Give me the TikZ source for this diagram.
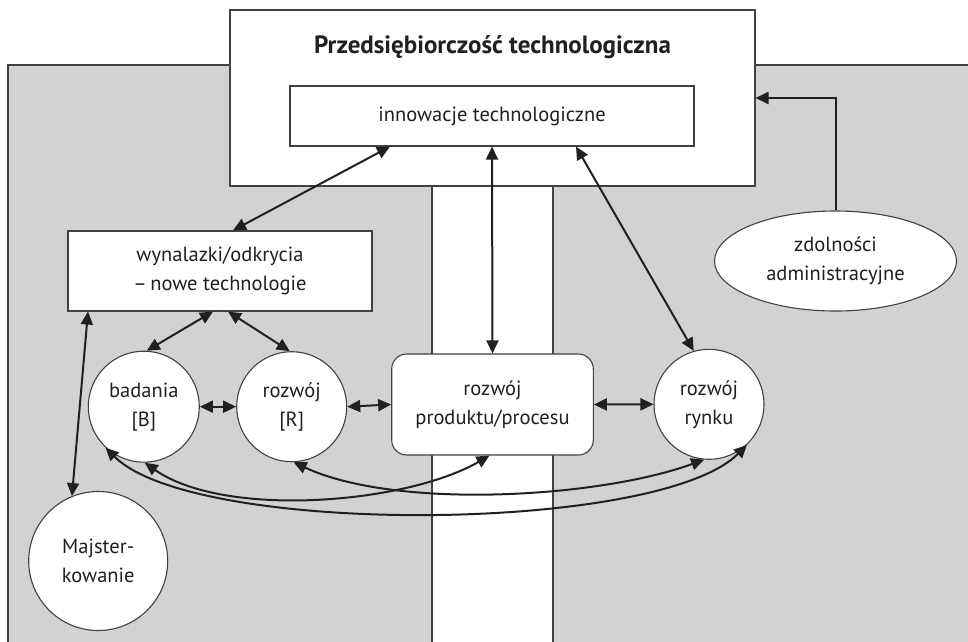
\documentclass[tikz,border=0pt]{standalone}
\usepackage{fontspec}
\setmainfont{PT Sans}
\usetikzlibrary{arrows.meta,shapes.geometric}
\definecolor{bggray}{RGB}{209,210,212}
\definecolor{edge}{RGB}{65,64,66}
\definecolor{ink}{RGB}{35,31,32}
\begin{document}
\begin{tikzpicture}[x=1pt,y=-1pt,
  every node/.style={font=\fontsize{20.5}{29}\selectfont, text=ink, align=center, inner sep=0pt},
  boxed/.style={draw=edge, line width=1.1pt, fill=white},
  circ/.style={boxed, circle},
  link/.style={draw=ink, line width=2pt, {Triangle[length=13pt,width=12pt]}-{Triangle[length=13pt,width=12pt]}},
  onelink/.style={draw=ink, line width=2pt, -{Triangle[length=13pt,width=12pt]}}]
\useasboundingbox (0,0) rectangle (968,641);
% grey field behind the process
\fill[bggray] (8,65) rectangle (980,660);
\draw[edge, line width=1.1pt] (8,660) -- (8,65) -- (980,65);
% white corridor under the enterprise box
\fill[white] (432,186) rectangle (553,660);
\draw[edge, line width=1.1pt] (432,186) -- (432,660) (553,186) -- (553,660);
% enterprise box
\node[boxed, minimum width=525pt, minimum height=176pt] (top) at (492.5,98) {};
\node[font=\fontsize{25}{30}\selectfont\bfseries] (title) at (492.5,47) {Przedsiębiorczość technologiczna};
\node[boxed, minimum width=404pt, minimum height=60pt] (inno) at (492,116) {innowacje technologiczne};
% process elements
\node[boxed, minimum width=304pt, minimum height=80pt] (wyn) at (220,271) {wynalazki/odkrycia\\–\,nowe technologie};
\node[circ, minimum size=111pt] (bad) at (143.8,406.7) {badania\\{[B]}};
\node[circ, minimum size=110pt] (rozR) at (291.7,406.7) {rozwój\\{[R]}};
\node[boxed, rounded corners=15pt, minimum width=201.6pt, minimum height=101pt] (prod) at (492.5,404.5) {rozwój\\produktu/procesu};
\node[circ, minimum size=110pt] (rynek) at (709,404.3) {rozwój\\rynku};
\node[boxed, ellipse, minimum width=242pt, minimum height=100pt] (adm) at (835.5,261) {zdolności\\administracyjne};
\node[circ, minimum size=139pt] (maj) at (98.2,561) {Majster-\\kowanie};
% connectors
\draw[link] ([xshift=-102pt]inno.south) -- ([xshift=13pt]wyn.north);
\draw[link] (inno.south) -- (prod.north);
\draw[link] ([xshift=84pt]inno.south) -- (rynek.106);
\draw[link] ([xshift=-7pt]wyn.south) -- (bad.87);
\draw[link] ([xshift=8pt]wyn.south) -- (rozR.92);
\draw[link] ([xshift=-132pt]wyn.south) -- (maj.112);
\draw[link] (bad.east) -- (rozR.west);
\draw[link] (rozR.east) -- (prod.west);
\draw[link] (prod.east) -- (rynek.west);
\draw[link] (bad.-89) to[out=-35, in=-150, looseness=0.72] ([xshift=-3pt]prod.south);
\draw[link] (rozR.-88) to[out=-25, in=-160, looseness=0.7] (rynek.-95);
\draw[link] (bad.-133) to[out=-45, in=-135, looseness=0.5] (rynek.-47);
\draw[onelink] (adm.north) |- (top.east);
\end{tikzpicture}
\end{document}
